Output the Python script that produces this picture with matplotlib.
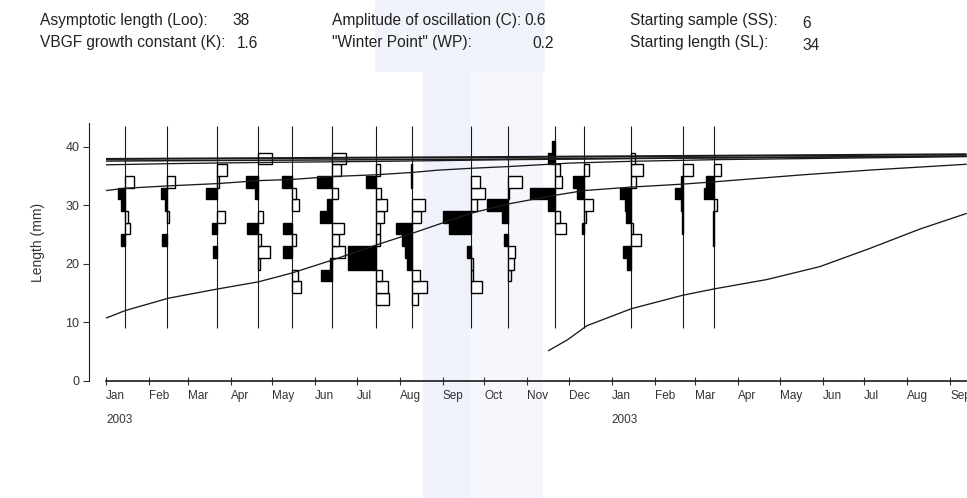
import matplotlib
matplotlib.use("Agg")
import matplotlib.pyplot as plt
import matplotlib.transforms as mtransforms
from matplotlib.patches import Rectangle
import numpy as np
import pandas as pd

plt.rcParams['font.family'] = ['Liberation Sans', 'DejaVu Sans']

# ---------------- data ----------------
header_col1_labels = ["Asymptotic length (Loo):", "VBGF growth constant (K):"]
header_col1_values = ["38", "1.6"]
header_col2_labels = ["Amplitude of oscillation (C):", "\"Winter Point\" (WP):"]
header_col2_values = ["0.6", "0.2"]
header_col3_labels = ["Starting sample (SS):", "Starting length (SL):"]
header_col3_values = ["6", "34"]

origin = pd.Timestamp("2003-01-01")
sample_dates = ["2003-01-15", "2003-02-14", "2003-03-22", "2003-04-21", "2003-05-15",
                "2003-06-13", "2003-07-15", "2003-08-10", "2003-09-21", "2003-10-18",
                "2003-11-21", "2003-12-12", "2004-01-15", "2004-02-21", "2004-03-15"]

length_classes = [14, 16, 18, 20, 22, 24, 26, 28, 30, 32, 34, 36, 38, 40]
# restructured scores: positive = black peak (drawn left), negative = white trough (drawn right)
scores = [
    [0, 0, 0, 0, 0, 0.43, -0.45, -0.3, 0.4, 0.7, -0.9, 0, 0, 0],
    [0, 0, 0, 0, 0, 0.53, 0, -0.23, 0.23, 0.63, -0.77, 0, 0, 0],
    [0, 0, 0, 0, 0.43, 0, 0.53, -0.8, 0, 1.1, -0.2, -1.0, 0, 0],
    [0, 0, 0, -0.17, -1.13, -0.3, 1.13, -0.45, 0, 0.3, 1.23, 0, -1.37, 0],
    [0, -0.95, -0.58, 0, 0.87, -0.38, 0.87, 0, -0.73, -0.4, 0.98, 0, 0, 0],
    [0, 0, 1.05, 0.2, -1.27, -0.7, -1.18, 1.17, 0.5, -0.58, 1.52, -0.87, -1.4, 0],
    [-1.3, -1.15, -0.6, 2.87, 2.87, -0.4, -0.37, -0.73, -1.1, -0.5, 1.0, -0.33, 0, 0],
    [-0.6, -1.42, -0.75, 0.55, 0.75, 1.07, 1.62, -0.82, -1.25, 0, 0.15, 0.15, 0, 0],
    [0, -1.12, -0.25, -0.25, 0.38, 0, 2.15, 2.75, -0.67, -1.42, -0.95, 0, 0, 0],
    [0, 0, -0.3, -0.6, -0.72, 0.38, 0, 0.6, 2.05, -0.15, -1.38, 0, 0, 0],
    [0, 0, 0, 0, 0, 0, -1.05, -0.45, 0.75, 2.47, -0.72, -0.45, 0.67, 0.33],
    [0, 0, 0, 0, 0, 0, 0.22, -0.2, -0.9, 0.67, 1.13, -0.5, 0, 0],
    [0, 0, 0, 0.47, 0.8, -1.0, -0.17, 0.5, 0.6, 1.17, -0.5, -1.13, -0.4, 0],
    [0, 0, 0, 0, 0, 0, 0.1, 0.1, 0.13, 0.8, 0.2, -1.0, 0, 0],
    [0, 0, 0, 0, 0, 0.1, 0.1, 0.1, -0.25, 1.03, 0.83, -0.67, 0, 0],
]

# growth curves (days since 1 Jan 2003, length mm)
curve_a_days = [0, 14, 45, 81, 110, 134, 163, 195, 221, 263, 290, 324, 345, 379, 416, 439, 503, 551, 621]
curve_a_len = [10.7, 12.0, 14.1, 15.7, 16.9, 18.4, 20.6, 23.2, 25.2, 28.6, 30.2, 31.7, 32.5, 33.1, 33.6, 34.0, 35.2, 36.0, 37.0]
curve_b_days = [0, 14, 45, 81, 110, 134, 163, 195, 221, 240, 263, 290, 335, 379, 444, 515, 621]
curve_b_len = [32.5, 32.9, 33.3, 33.7, 34.2, 34.4, 34.9, 35.2, 35.6, 36.0, 36.3, 36.6, 37.2, 37.5, 37.8, 38.0, 38.3]
curve_c_days = [0, 45, 110, 200, 300, 450, 621]
curve_c_len = [36.9, 37.1, 37.3, 37.5, 37.8, 38.1, 38.4]
curve_d_days = [0, 300, 621]
curve_d_len = [37.55, 37.9, 38.4]
curve_e_days = [0, 300, 621]
curve_e_len = [37.9, 38.25, 38.7]
curve_f_days = [319, 333, 347, 379, 416, 439, 477, 515, 551, 587, 621]
curve_f_len = [5.1, 7.0, 9.4, 12.3, 14.6, 15.7, 17.3, 19.5, 22.6, 25.9, 28.6]

month_ticks = pd.date_range("2003-01-01", "2004-09-01", freq="MS")
year_labels = ["2003", "2003"]
year_label_dates = ["2003-01-01", "2004-01-01"]

# ---------------- figure ----------------
W, H = 967, 498
fig = plt.figure(figsize=(W / 100, H / 100), dpi=100)
fig.patch.set_facecolor("white")

# faint scan band
def band(x0, y0, x1, y1, c):
    fig.add_artist(Rectangle((x0 / W, 1 - y1 / H), (x1 - x0) / W, (y1 - y0) / H,
                             transform=fig.transFigure, color=c, zorder=0, lw=0))
band(375, 0, 545, 72, "#f1f3fb")
band(423, 72, 470, 498, "#f0f2fb")
band(470, 72, 543, 498, "#f6f7fc")

ax_left, ax_right = 89, 967
y_zero_px, y_top_px = 380.7, 123
ax = fig.add_axes([ax_left / W, 1 - y_zero_px / H, (ax_right - ax_left) / W, (y_zero_px - y_top_px) / H])
ax.patch.set_alpha(0)

px_per_day = 1.386
xmin = (ax_left - 106) / px_per_day
xmax = (ax_right - 106) / px_per_day
ax.set_xlim(xmin, xmax)
ax.set_ylim(0, 44.05)

ink = "#1a1a1a"
sample_days = [(pd.Timestamp(d) - origin).days for d in sample_dates]
score_scale = 10 / px_per_day  # 1 score unit = 10 px

ax.vlines(sample_days, 9.0, 43.5, color=ink, lw=0.8, zorder=2)

for d, row in zip(sample_days, scores):
    for c, s in zip(length_classes, row):
        if s == 0:
            continue
        w = abs(s) * score_scale
        if s > 0:
            ax.barh(c, w, left=d - w, height=2, color="black", edgecolor="black", lw=1.0, zorder=3)
        else:
            ax.barh(c, w, left=d, height=2, color="white", edgecolor="black", lw=1.0, zorder=3)

for dd, ll, lw in [(curve_a_days, curve_a_len, 0.95), (curve_b_days, curve_b_len, 0.95),
                   (curve_c_days, curve_c_len, 0.95), (curve_d_days, curve_d_len, 1.1),
                   (curve_e_days, curve_e_len, 1.5), (curve_f_days, curve_f_len, 0.95)]:
    ax.plot(dd, ll, color=ink, lw=lw, zorder=4, solid_capstyle="butt")

# axes styling
for s in ["top", "right"]:
    ax.spines[s].set_visible(False)
ax.spines["left"].set_bounds(0, 44.05)
ax.spines["left"].set_linewidth(0.8)
ax.spines["left"].set_color(ink)
ax.spines["bottom"].set_bounds(0, xmax)
ax.spines["bottom"].set_linewidth(1.2)
ax.spines["bottom"].set_color(ink)

ax.set_yticks([0, 10, 20, 30, 40])
ax.tick_params(axis="y", direction="out", length=4, width=0.8, labelsize=9, pad=3, colors="#333333")
tick_days = [(t - origin).days for t in month_ticks]
ax.set_xticks(tick_days)
ax.set_xticklabels([t.strftime("%b") for t in month_ticks])
ax.tick_params(axis="x", direction="inout", length=6, width=0.8, labelsize=8.5, pad=4, colors="#333333")
for lbl in ax.get_xticklabels():
    lbl.set_ha("left")

ax.set_ylabel("Length (mm)", fontsize=10, color="#333333")
ax.yaxis.set_label_coords((45 - ax_left) / (ax_right - ax_left), (y_zero_px - 242) / (y_zero_px - y_top_px))

trans = mtransforms.blended_transform_factory(ax.transData, ax.transAxes)
for txt, dstr in zip(year_labels, year_label_dates):
    dd = (pd.Timestamp(dstr) - origin).days
    ax.text(dd, (y_zero_px - 420) / (y_zero_px - y_top_px), txt, transform=trans,
            ha="left", va="center", fontsize=8.5, color="#333333")

# header
def ftext(x, y, s, **kw):
    fig.text(x / W, 1 - y / H, s, va="center", ha="left", fontsize=11.2, color="#222222", **kw)

for i, (lab, val) in enumerate(zip(header_col1_labels, header_col1_values)):
    y = 20 + 23 * i
    ftext(40, y, lab)
    ftext(232 if i == 0 else 237, y, val)
for i, (lab, val) in enumerate(zip(header_col2_labels, header_col2_values)):
    y = 20 + 23 * i
    ftext(332, y, lab)
    ftext(524 if i == 0 else 532, y, val)
for i, (lab, val) in enumerate(zip(header_col3_labels, header_col3_values)):
    y = 20 + 23 * i
    ftext(630, y, lab)
    ftext(802, y + 3, val)

fig.savefig("out.png", dpi=100)
